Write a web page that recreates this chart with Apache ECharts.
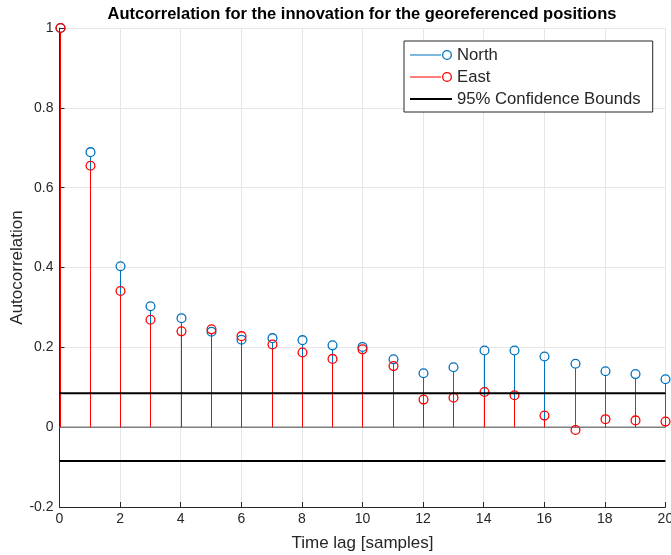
<!DOCTYPE html>
<html>
<head>
<meta charset="utf-8">
<script src="https://cdn.jsdelivr.net/npm/echarts@6/dist/echarts.min.js"></script>
<style>
html,body{margin:0;padding:0;background:#fff;}
#chart{width:671px;height:555px;}
</style>
</head>
<body>
<div id="chart"></div>
<script>
// ---- data ----
const lags = [0,1,2,3,4,5,6,7,8,9,10,11,12,13,14,15,16,17,18,19,20];
const northValues = [1.000,0.689,0.403,0.303,0.273,0.239,0.219,0.223,0.218,0.205,0.201,0.170,0.135,0.150,0.192,0.192,0.177,0.159,0.140,0.133,0.120];
const eastValues  = [1.000,0.655,0.341,0.269,0.240,0.245,0.228,0.207,0.187,0.171,0.195,0.153,0.069,0.074,0.088,0.080,0.029,-0.007,0.020,0.017,0.014];
const confidenceBound = 0.085;
const xTicks = {min:0, max:20, interval:2};
const yTicks = {min:-0.2, max:1, interval:0.2};

const BLUE = '#0072BD';
const RED = '#FF0000';
const AXIS = '#262626';
const FONT = '"Liberation Sans", Arial, Helvetica, sans-serif';
const R = 4.4;

function stemRenderer(color) {
  return function (params, api) {
    const x = api.value(0), v = api.value(1);
    const top = api.coord([x, v]);
    const base = api.coord([x, 0]);
    const px = Math.round(top[0]) + 0.5;
    const dir = base[1] >= top[1] ? 1 : -1;
    const children = [];
    if (Math.abs(base[1] - top[1]) > R) {
      children.push({
        type: 'line',
        shape: {x1: px, y1: base[1], x2: px, y2: top[1] + dir * R},
        style: {stroke: color, lineWidth: 1}
      });
    }
    children.push({
      type: 'circle',
      shape: {cx: px, cy: top[1], r: R},
      style: {fill: 'none', stroke: color, lineWidth: 1.3}
    });
    return {type: 'group', children: children};
  };
}

const northData = lags.map((l, i) => [l, northValues[i]]);
const eastData = lags.map((l, i) => [l, eastValues[i]]);

const stemIcon = 'path://M0,4.5 L31,4.5 L31,5.5 L0,5.5 Z M32,5 A5,5 0 1,1 42,5 A5,5 0 1,1 32,5 Z M33.3,5 A3.7,3.7 0 1,0 40.7,5 A3.7,3.7 0 1,0 33.3,5 Z';
const boundIcon = 'path://M0,0 L42,0 L42,0.001 L0,0.001 Z M0,4 L42,4 L42,6 L0,6 Z M0,9.999 L42,9.999 L42,10 L0,10 Z';

const chart = echarts.init(document.getElementById('chart'), null, {renderer: 'canvas'});
chart.setOption({
  animation: false,
  backgroundColor: '#fff',
  title: {
    text: 'Autcorrelation for the innovation for the georeferenced positions',
    left: 362,
    textAlign: 'center',
    top: 6,
    padding: 0,
    textStyle: {fontFamily: FONT, fontSize: 16.5, fontWeight: 'bold', color: '#000'}
  },
  grid: {left: 59.5, right: 5.6, top: 28, bottom: 48, containLabel: false, outerBoundsMode: 'none'},
  legend: {
    orient: 'vertical',
    left: 404,
    top: 41,
    padding: [4, 12, 3, 6],
    itemWidth: 42,
    itemHeight: 10,
    itemGap: 2,
    backgroundColor: '#fff',
    borderColor: AXIS,
    borderWidth: 1,
    borderRadius: 0,
    selectedMode: false,
    textStyle: {fontFamily: FONT, fontSize: 16.7, color: AXIS, lineHeight: 20},
    data: [
      {name: 'North', icon: stemIcon},
      {name: 'East', icon: stemIcon},
      {name: '95% Confidence Bounds', icon: boundIcon}
    ]
  },
  xAxis: {
    type: 'value',
    min: xTicks.min, max: xTicks.max, interval: xTicks.interval,
    name: 'Time lag [samples]',
    nameLocation: 'middle',
    nameGap: 28,
    nameMoveOverlap: false,
    nameTextStyle: {fontFamily: FONT, fontSize: 17, color: AXIS},
    axisLine: {show: true, onZero: false, lineStyle: {color: AXIS, width: 1}},
    axisTick: {show: true, inside: true, length: 5, lineStyle: {color: AXIS}},
    axisLabel: {fontFamily: FONT, fontSize: 14, color: AXIS, margin: 5},
    splitLine: {show: true, lineStyle: {color: '#e6e6e6', width: 1}}
  },
  yAxis: {
    type: 'value',
    min: yTicks.min, max: yTicks.max, interval: yTicks.interval,
    name: 'Autocorrelation',
    nameLocation: 'middle',
    nameGap: 34,
    nameMoveOverlap: false,
    nameTextStyle: {fontFamily: FONT, fontSize: 17, color: AXIS},
    axisLine: {show: true, onZero: false, lineStyle: {color: AXIS, width: 1}},
    axisTick: {show: true, inside: true, length: 5, lineStyle: {color: AXIS}},
    axisLabel: {fontFamily: FONT, fontSize: 14, color: AXIS, margin: 6},
    splitLine: {show: true, lineStyle: {color: '#e6e6e6', width: 1}}
  },
  series: [
    {
      name: 'baseline',
      type: 'line',
      data: [[xTicks.min, 0], [xTicks.max, 0]],
      symbol: 'none',
      lineStyle: {color: '#7f7f7f', width: 1.5},
      silent: true,
      z: 2
    },
    {
      name: 'North',
      type: 'custom',
      renderItem: stemRenderer(BLUE),
      itemStyle: {color: BLUE},
      data: northData,
      clip: false,
      z: 3
    },
    {
      name: 'East',
      type: 'custom',
      renderItem: stemRenderer(RED),
      itemStyle: {color: RED},
      data: eastData,
      clip: false,
      z: 4
    },
    {
      name: '95% Confidence Bounds',
      type: 'line',
      data: [[xTicks.min, confidenceBound], [xTicks.max, confidenceBound]],
      symbol: 'none',
      lineStyle: {color: '#000', width: 2},
      itemStyle: {color: '#000'},
      z: 5
    },
    {
      name: '95% Confidence Bounds',
      type: 'line',
      data: [[xTicks.min, -confidenceBound], [xTicks.max, -confidenceBound]],
      symbol: 'none',
      lineStyle: {color: '#000', width: 2},
      itemStyle: {color: '#000'},
      z: 5
    }
  ]
});
</script>
</body>
</html>
